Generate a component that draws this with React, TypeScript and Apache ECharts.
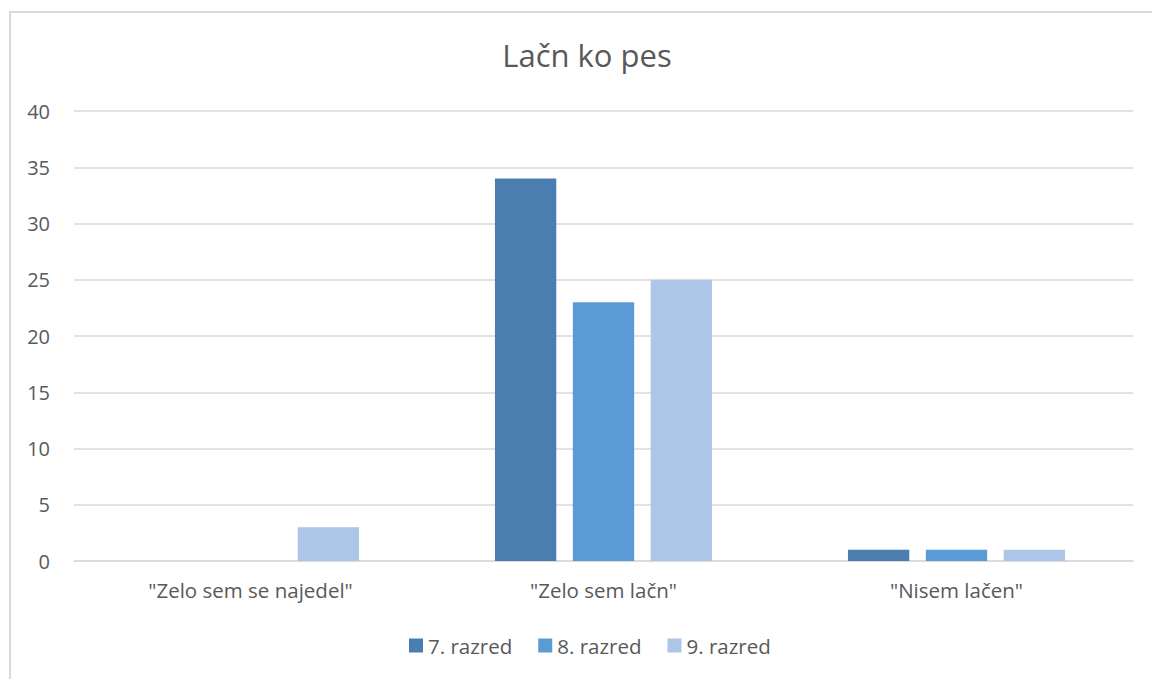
import React, { useEffect, useRef } from "react";
import * as echarts from "echarts";

const categories = ['"Zelo sem se najedel"', '"Zelo sem lačn"', '"Nisem lačen"'];
const seriesNames = ["7. razred", "8. razred", "9. razred"];
const razred7 = [0, 34, 1];
const razred8 = [0, 23, 1];
const razred9 = [3, 25, 1];
const colors = ["#4a7eb0", "#5b9bd5", "#adc5e6"];

const FONT = "Open Sans";
const TEXT = "#595959";
const LINE = "#d9d9d9";

export default function App() {
  const ref = useRef<HTMLDivElement>(null);

  useEffect(() => {
    if (!ref.current) return;
    const chart = echarts.init(ref.current, null, { renderer: "svg" });
    const values = [razred7, razred8, razred9];
    chart.setOption({
      animation: false,
      backgroundColor: "#ffffff",
      textStyle: { fontFamily: FONT },
      graphic: [
        {
          type: "rect",
          shape: { x: 10, y: 12, width: 1200, height: 720 },
          style: { fill: "none", stroke: LINE, lineWidth: 2 },
          silent: true,
        },
        {
          type: "text",
          x: 587,
          y: 55,
          style: {
            text: "Lačn ko pes",
            fontFamily: FONT,
            fontSize: 31,
            fill: TEXT,
            align: "center",
            verticalAlign: "middle",
          },
          silent: true,
        },
      ],
      legend: {
        bottom: 18,
        left: 404,
        itemWidth: 14,
        itemHeight: 14,
        itemGap: 26,
        icon: "rect",
        textStyle: { fontFamily: FONT, fontSize: 20.5, color: TEXT },
        data: seriesNames,
      },
      grid: { left: 74, right: 19, top: 111, bottom: 118, containLabel: false },
      xAxis: {
        type: "category",
        data: categories,
        axisLine: { lineStyle: { color: LINE, width: 1.5 } },
        axisTick: { show: false },
        axisLabel: { fontFamily: FONT, fontSize: 20.5, color: TEXT, margin: 18 },
      },
      yAxis: {
        type: "value",
        min: 0,
        max: 40,
        interval: 5,
        axisLine: { show: false },
        axisTick: { show: false },
        axisLabel: { fontFamily: FONT, fontSize: 20, color: TEXT, margin: 24 },
        splitLine: { lineStyle: { color: LINE, width: 1.5 } },
      },
      series: seriesNames.map((name, i) => ({
        name,
        type: "bar",
        data: values[i],
        itemStyle: { color: colors[i] },
        barGap: "27%",
        barCategoryGap: "38.5%",
      })),
    });
    return () => chart.dispose();
  }, []);

  return (
    <div
      ref={ref}
      style={{ position: "fixed", left: 0, top: 0, width: 1152, height: 679 }}
    />
  );
}
